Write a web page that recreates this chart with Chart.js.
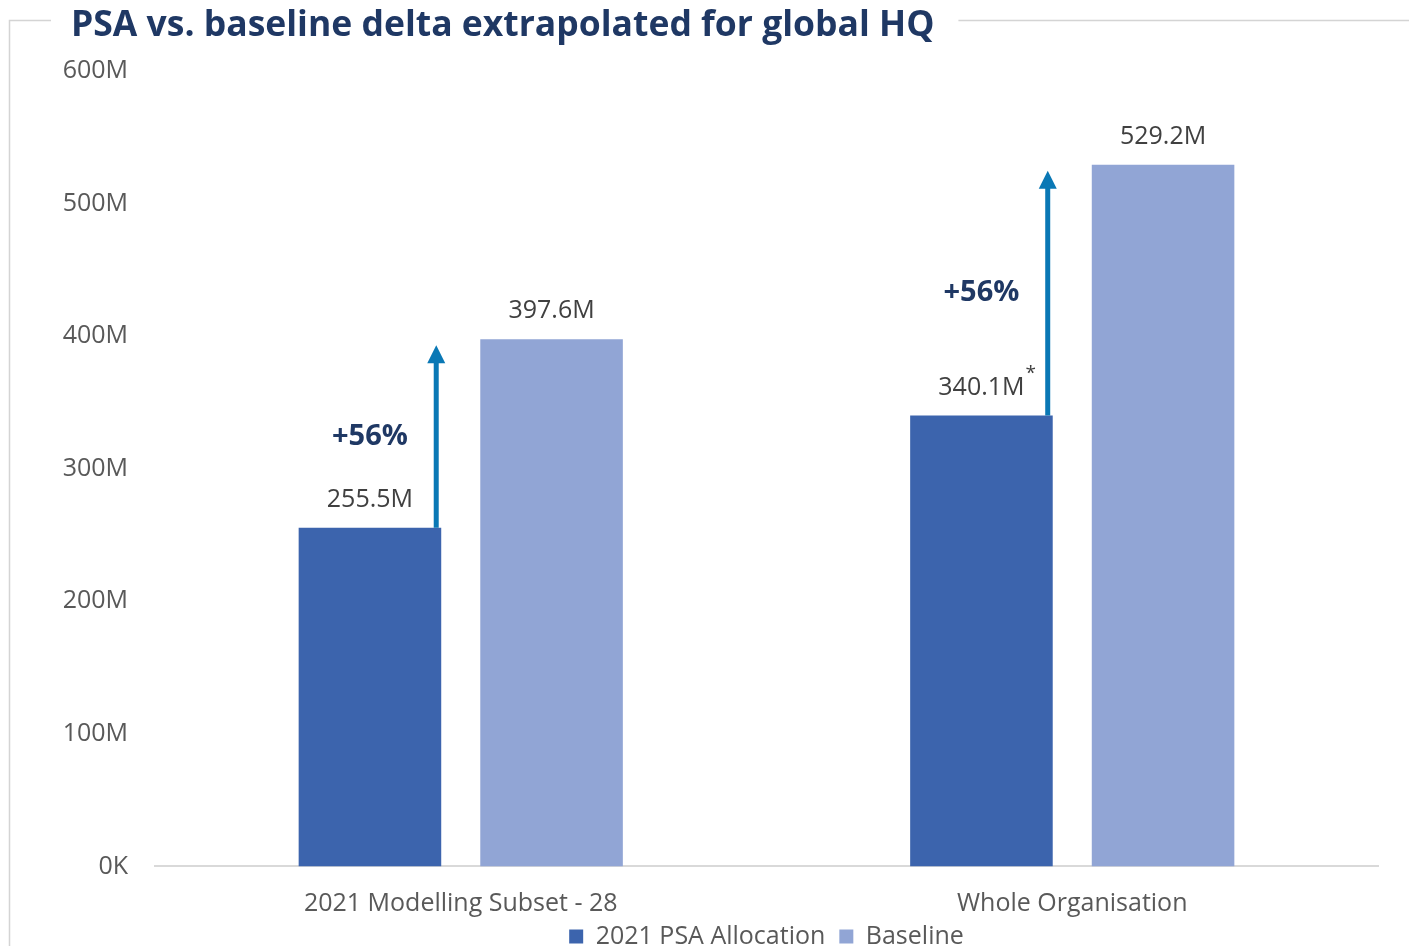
<!DOCTYPE html>
<html>
<head>
<meta charset="utf-8">
<title>PSA vs. baseline delta extrapolated for global HQ</title>
<script src="https://cdn.jsdelivr.net/npm/chart.js@4.4.1/dist/chart.umd.min.js"></script>
<style>
  html, body { margin: 0; padding: 0; background: #fff; }
  canvas { display: block; }
</style>
</head>
<body>
<canvas id="psaChart" width="1409" height="946"></canvas>
<script>
var categories = ['2021 Modelling Subset - 28', 'Whole Organisation']
var psaValues = [255.5, 340.1]
var baselineValues = [397.6, 529.2]
var psaNotes = ['', '*']
var yTicks = [0, 100, 200, 300, 400, 500, 600]

var titleText = 'PSA vs. baseline delta extrapolated for global HQ'
var fontFamily = "'Open Sans', 'Noto Sans', sans-serif"

// frame + title, drawn behind the chart
var framePlugin = {
    id: 'frame',
    beforeDraw: function (chart) {
        var ctx = chart.ctx
        ctx.save()
        var size = 40
        ctx.font = 'bold ' + size + 'px ' + fontFamily
        while (ctx.measureText(titleText).width > 864 && size > 20) {
            size -= 0.5
            ctx.font = 'bold ' + size + 'px ' + fontFamily
        }
        ctx.fillStyle = '#1F3864'
        ctx.textBaseline = 'middle'
        ctx.textAlign = 'left'
        ctx.fillText(titleText, 71, 26)
        var w = ctx.measureText(titleText).width

        ctx.strokeStyle = '#d4d4d4'
        ctx.lineWidth = 1.5
        ctx.beginPath()
        ctx.moveTo(51, 20.5)
        ctx.lineTo(9.5, 20.5)
        ctx.lineTo(9.5, 946)
        ctx.moveTo(71 + w + 24, 20.5)
        ctx.lineTo(1409, 20.5)
        ctx.stroke()
        ctx.restore()
    }
}

// category labels, value labels, growth arrows and +x% text
var annotationsPlugin = {
    id: 'annotations',
    afterDatasetsDraw: function (chart) {
        var ctx = chart.ctx
        var x = chart.scales.x
        var y = chart.scales.y
        var psaMeta = chart.getDatasetMeta(0)
        var baseMeta = chart.getDatasetMeta(1)
        ctx.save()

        // category labels under the axis
        ctx.font = '25px ' + fontFamily
        ctx.fillStyle = '#595959'
        ctx.textAlign = 'center'
        ctx.textBaseline = 'middle'
        for (var c = 0; c < categories.length; c++) {
            ctx.fillText(categories[c], x.getPixelForValue(c), x.top + 37)
        }

        // arrows
        for (var i = 0; i < categories.length; i++) {
            var bar = psaMeta.data[i]
            var ax = bar.x + bar.width / 2 - 5
            var yStart = bar.y
            var yEnd = y.getPixelForValue(baselineValues[i]) + 6
            ctx.strokeStyle = '#0A78B5'
            ctx.fillStyle = '#0A78B5'
            ctx.lineWidth = 5
            ctx.beginPath()
            ctx.moveTo(ax, yStart)
            ctx.lineTo(ax, yEnd + 16)
            ctx.stroke()
            ctx.beginPath()
            ctx.moveTo(ax, yEnd)
            ctx.lineTo(ax - 9, yEnd + 18)
            ctx.lineTo(ax + 9, yEnd + 18)
            ctx.closePath()
            ctx.fill()

            var pct = Math.round((baselineValues[i] / psaValues[i] - 1) * 100)
            ctx.font = 'bold 29px ' + fontFamily
            ctx.fillStyle = '#1F3864'
            ctx.fillText('+' + pct + '%', bar.x, (yStart + yEnd) / 2)
        }

        // value labels
        ctx.fillStyle = '#404040'
        for (var j = 0; j < categories.length; j++) {
            var p = psaMeta.data[j]
            var label = psaValues[j].toFixed(1) + 'M'
            ctx.font = '25px ' + fontFamily
            ctx.fillText(label, p.x, p.y - 28)
            if (psaNotes[j]) {
                var lw = ctx.measureText(label).width
                ctx.font = '19px ' + fontFamily
                ctx.textAlign = 'left'
                ctx.fillText(psaNotes[j], p.x + lw / 2 + 1, p.y - 42)
                ctx.textAlign = 'center'
            }
            var b = baseMeta.data[j]
            ctx.font = '25px ' + fontFamily
            ctx.fillText(baselineValues[j].toFixed(1) + 'M', b.x, b.y - 28)
        }
        ctx.restore()
    }
}

var ctx = document.getElementById('psaChart').getContext('2d')

var psaChart = new Chart(ctx, {
    type: 'bar',
    data: {
        labels: categories,
        datasets: [
            {
                label: '2021 PSA Allocation',
                data: psaValues,
                backgroundColor: '#3C64AD'
            },
            {
                label: 'Baseline',
                data: baselineValues,
                backgroundColor: '#91A5D5'
            }
        ]
    },
    options: {
        responsive: false,
        animation: false,
        categoryPercentage: 0.594,
        barPercentage: 0.785,
        layout: {
            padding: { top: 71, left: 10, right: 31, bottom: -13 }
        },
        plugins: {
            legend: {
                position: 'bottom',
                fullSize: false,
                labels: {
                    boxWidth: 14,
                    boxHeight: 14,
                    padding: 14,
                    color: '#595959',
                    font: { family: fontFamily, size: 25 }
                }
            },
            tooltip: { enabled: false }
        },
        scales: {
            x: {
                grid: { display: false, drawTicks: false },
                border: { display: true, color: '#d9d9d9', width: 2 },
                afterFit: function (scale) { scale.height = 43.6 },
                ticks: { display: false }
            },
            y: {
                min: 0,
                max: 600,
                afterFit: function (scale) { scale.width = 145 },
                afterBuildTicks: function (scale) {
                    scale.ticks = yTicks.map(function (v) { return { value: v } })
                },
                grid: { display: false, drawTicks: false },
                border: { display: false },
                ticks: {
                    color: '#595959',
                    padding: 27,
                    font: { family: fontFamily, size: 25 },
                    callback: function (v) { return v === 0 ? '0K' : v + 'M' }
                }
            }
        }
    },
    plugins: [framePlugin, annotationsPlugin]
})
</script>
</body>
</html>
